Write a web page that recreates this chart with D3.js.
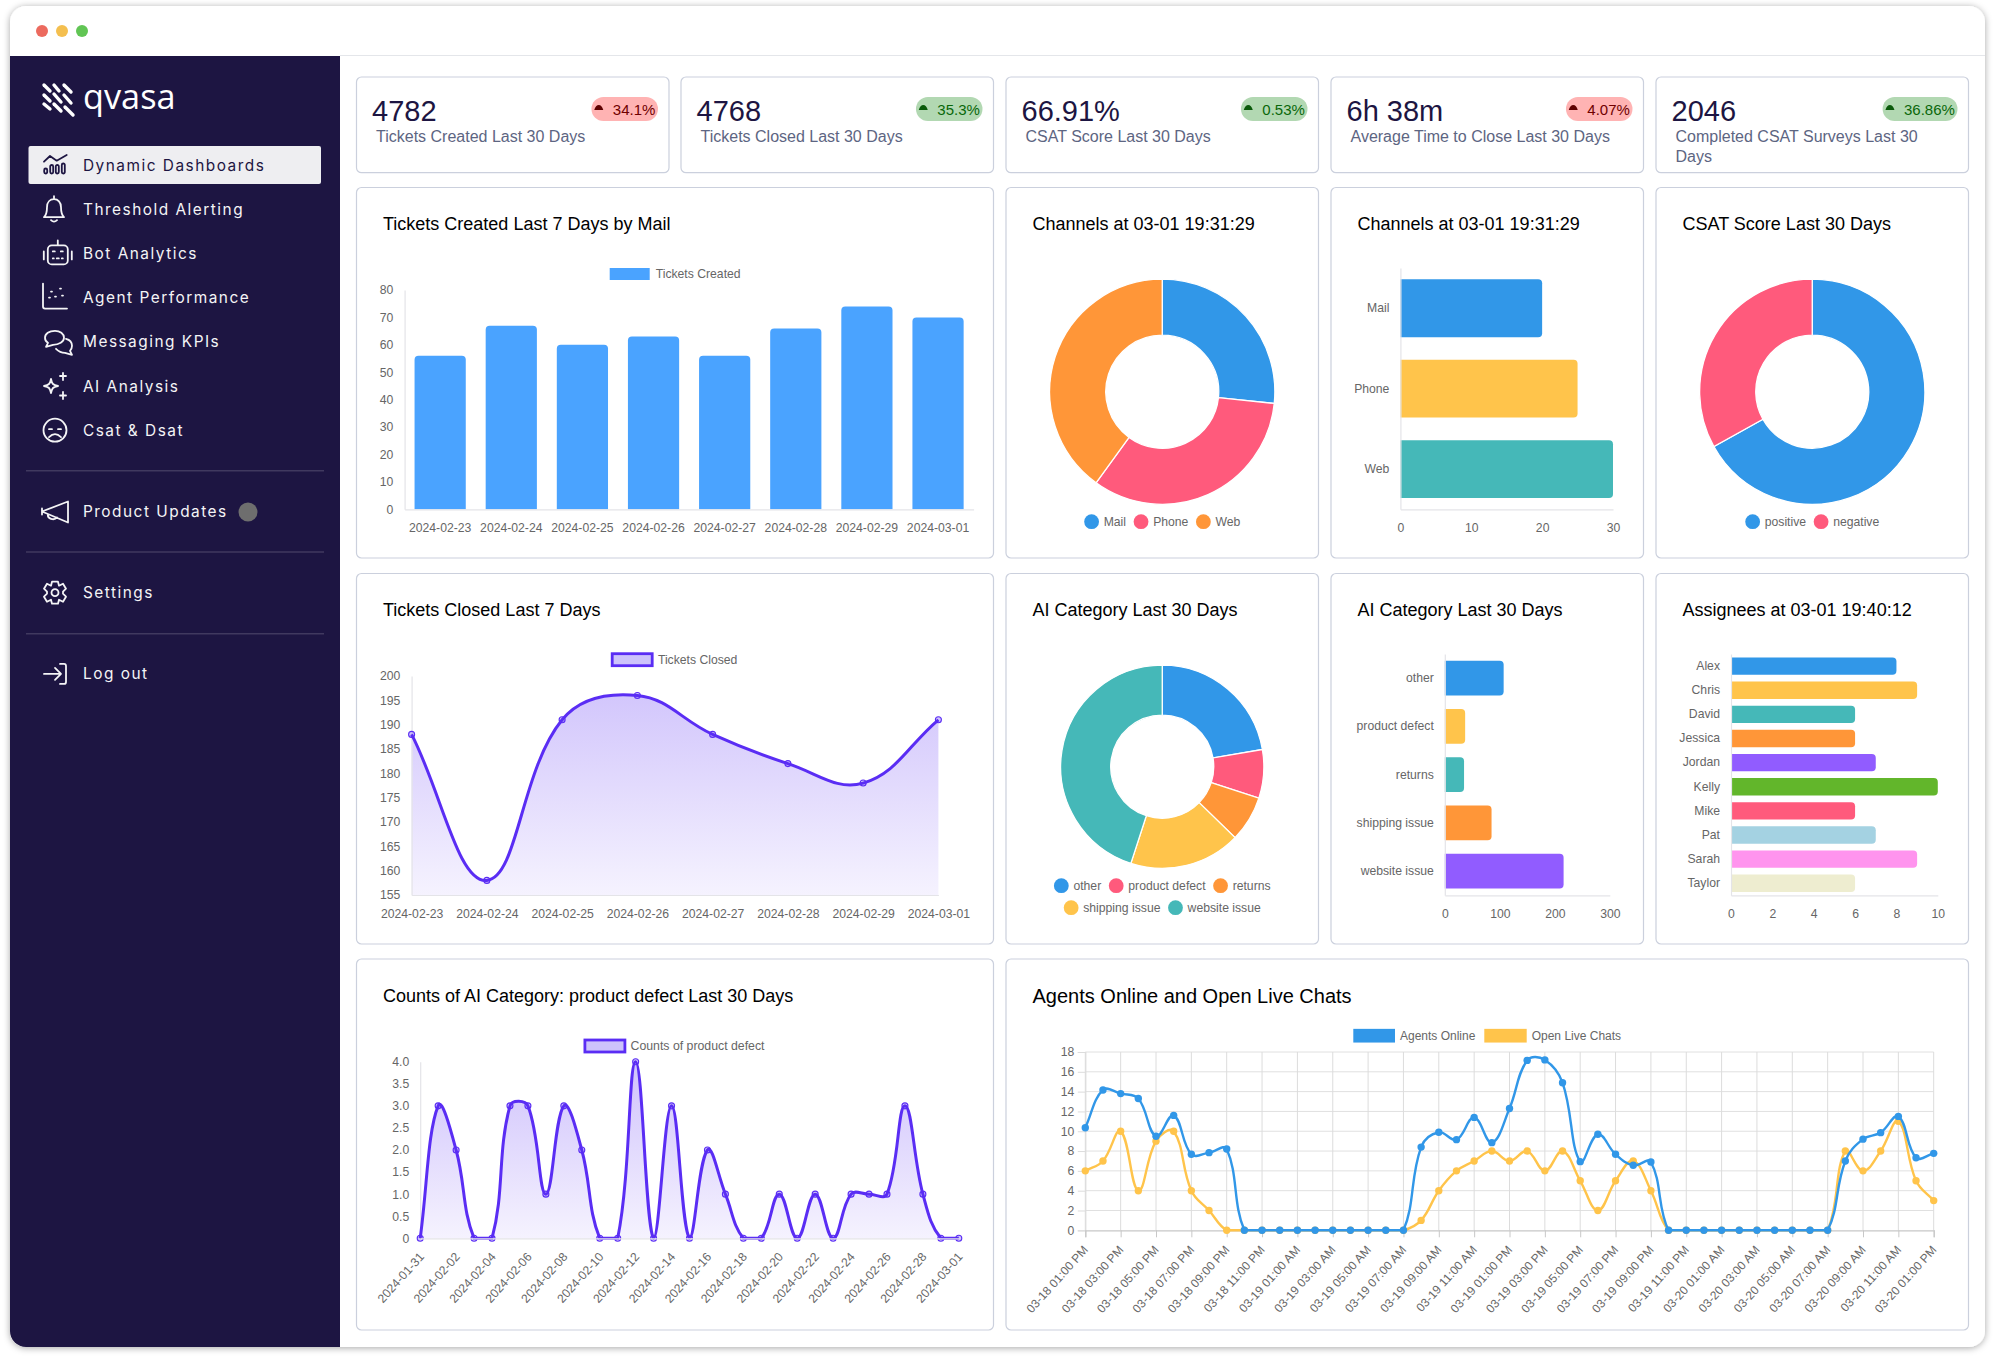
<!DOCTYPE html>
<html>
<head>
<meta charset="utf-8">
<title>qvasa dashboard</title>
<script src="https://d3js.org/d3.v7.min.js"></script>
<style>
html, body { margin: 0; padding: 0; background: #fff; }
svg { display: block; }
text { font-family: "Liberation Sans", Arial, sans-serif; }
</style>
</head>
<body>
<svg id="page" width="1995" height="1361"></svg>
<script>
// ---- data ----
var navItems = ['Dynamic Dashboards', 'Threshold Alerting', 'Bot Analytics', 'Agent Performance', 'Messaging KPIs', 'AI Analysis', 'Csat & Dsat'];
var navExtra = ['Product Updates', 'Settings', 'Log out'];

var kpiValues = ['4782', '4768', '66.91%', '6h 38m', '2046'];
var kpiDeltas = ['34.1%', '35.3%', '0.53%', '4.07%', '36.86%'];
var kpiGood = [false, true, true, false, true];
var kpiLabels = ['Tickets Created Last 30 Days', 'Tickets Closed Last 30 Days', 'CSAT Score Last 30 Days', 'Average Time to Close Last 30 Days', 'Completed CSAT Surveys Last 30 Days'];

var weekDays = ['2024-02-23', '2024-02-24', '2024-02-25', '2024-02-26', '2024-02-27', '2024-02-28', '2024-02-29', '2024-03-01'];
var ticketsCreated = [56, 67, 60, 63, 56, 66, 74, 70];
var ticketsClosed = [188, 158, 191, 196, 188, 182, 178, 191];

var channelNames = ['Mail', 'Phone', 'Web'];
var channelValues = [20, 25, 30];

var csatNames = ['positive', 'negative'];
var csatValues = [66.91, 33.09];

var aiNames = ['other', 'product defect', 'returns', 'shipping issue', 'website issue'];
var aiValues = [107, 37, 35, 85, 216];

var assigneeNames = ['Alex', 'Chris', 'David', 'Jessica', 'Jordan', 'Kelly', 'Mike', 'Pat', 'Sarah', 'Taylor'];
var assigneeValues = [8, 9, 6, 6, 7, 10, 6, 7, 9, 6];

var defectDays = ['2024-01-31', '2024-02-01', '2024-02-02', '2024-02-03', '2024-02-04', '2024-02-05', '2024-02-06', '2024-02-07', '2024-02-08', '2024-02-09', '2024-02-10', '2024-02-11', '2024-02-12', '2024-02-13', '2024-02-14', '2024-02-15', '2024-02-16', '2024-02-17', '2024-02-18', '2024-02-19', '2024-02-20', '2024-02-21', '2024-02-22', '2024-02-23', '2024-02-24', '2024-02-25', '2024-02-26', '2024-02-27', '2024-02-28', '2024-02-29', '2024-03-01'];
var defectCounts = [0, 3, 2, 0, 0, 3, 3, 1, 3, 2, 0, 0, 4, 0, 3, 0, 2, 1, 0, 0, 1, 0, 1, 0, 1, 1, 1, 3, 1, 0, 0];

var hourLabels = ['03-18 01:00 PM', '03-18 02:00 PM', '03-18 03:00 PM', '03-18 04:00 PM', '03-18 05:00 PM', '03-18 06:00 PM', '03-18 07:00 PM', '03-18 08:00 PM', '03-18 09:00 PM', '03-18 10:00 PM', '03-18 11:00 PM', '03-19 12:00 AM',
    '03-19 01:00 AM', '03-19 02:00 AM', '03-19 03:00 AM', '03-19 04:00 AM', '03-19 05:00 AM', '03-19 06:00 AM', '03-19 07:00 AM', '03-19 08:00 AM', '03-19 09:00 AM', '03-19 10:00 AM', '03-19 11:00 AM', '03-19 12:00 PM',
    '03-19 01:00 PM', '03-19 02:00 PM', '03-19 03:00 PM', '03-19 04:00 PM', '03-19 05:00 PM', '03-19 06:00 PM', '03-19 07:00 PM', '03-19 08:00 PM', '03-19 09:00 PM', '03-19 10:00 PM', '03-19 11:00 PM', '03-20 12:00 AM',
    '03-20 01:00 AM', '03-20 02:00 AM', '03-20 03:00 AM', '03-20 04:00 AM', '03-20 05:00 AM', '03-20 06:00 AM', '03-20 07:00 AM', '03-20 08:00 AM', '03-20 09:00 AM', '03-20 10:00 AM', '03-20 11:00 AM', '03-20 12:00 PM', '03-20 01:00 PM'];
var agentsOnline = [10.36, 14.17, 13.8, 13.3, 9.5, 11.6, 7.67, 7.84, 8.2, 0, 0, 0, 0, 0, 0, 0, 0, 0, 0, 8.4, 9.9, 9.15, 11.4, 8.85, 12.3, 17.15, 17.2, 14.9, 6.93, 9.7, 7.67, 6.56, 6.9, 0, 0, 0, 0, 0, 0, 0, 0, 0, 0, 7, 9.2, 9.86, 11.5, 7.33, 7.77];
var openChats = [6, 7, 10, 4, 9, 10, 4, 2, 0, 0, 0, 0, 0, 0, 0, 0, 0, 0, 0, 1, 4, 6, 7, 8, 7, 8, 6, 8, 5, 2, 5, 7, 4, 0, 0, 0, 0, 0, 0, 0, 0, 0, 0, 8, 6, 8, 11, 5, 3];

// ---- colours ----
var BLUE = '#3197e8', PINK = '#ff5a7c', ORANGE = '#ff9638', YELLOW = '#ffc44b', TEAL = '#45b8b8', PURPLE = '#915cff';
var INK = '#1d1542', LINE = '#5a2df4', AXIS = '#e4e4e8', TICK = '#666666';
var TICK_FONT = '12.2px';

var svg = d3.select('#page');
var defs = svg.append('defs');

// window frame
defs.append('filter').attr('id', 'shadow').attr('x', '-3%').attr('y', '-3%').attr('width', '106%').attr('height', '106%')
    .append('feDropShadow').attr('dx', 0).attr('dy', 1).attr('stdDeviation', 3.5).attr('flood-color', '#000').attr('flood-opacity', 0.35);
defs.append('clipPath').attr('id', 'win').append('rect')
    .attr('x', 10).attr('y', 6).attr('width', 1975).attr('height', 1341).attr('rx', 16);
svg.append('rect').attr('x', 10).attr('y', 6).attr('width', 1975).attr('height', 1341).attr('rx', 16)
    .attr('fill', '#fff').attr('filter', 'url(#shadow)');
var win = svg.append('g').attr('clip-path', 'url(#win)');
win.append('rect').attr('x', 10).attr('y', 56).attr('width', 330).attr('height', 1291).attr('fill', INK);
win.append('line').attr('x1', 340).attr('x2', 1985).attr('y1', 55.5).attr('y2', 55.5).attr('stroke', '#e4e6ea').attr('stroke-width', 1.2);
[[42, '#ec6a5e'], [62, '#f4bf4f'], [82, '#61c554']].forEach(function(d){
    svg.append('circle').attr('cx', d[0]).attr('cy', 31).attr('r', 6).attr('fill', d[1]);
});

// ---- sidebar ----
var logoStrokes = [[44, 85, 50, 91], [54, 85, 59, 91], [64, 85, 71, 92], [44, 95, 50, 101], [54, 94, 61, 102], [64, 95, 71, 103], [44, 104, 50, 109], [54, 104, 61, 111], [65, 107, 73, 115]];
svg.append('g').selectAll('line').data(logoStrokes).join('line')
    .attr('x1', function(d){ return d[0]; }).attr('y1', function(d){ return d[1]; })
    .attr('x2', function(d){ return d[2]; }).attr('y2', function(d){ return d[3]; })
    .attr('stroke', '#fff').attr('stroke-width', 3.4).attr('stroke-linecap', 'round');
svg.append('text').attr('x', 83).attr('y', 108.5).text('qvasa')
    .style('font-family', '"Open Sans"').style('font-weight', 400).style('font-size', '34.3px').attr('fill', '#fff');

svg.append('rect').attr('x', 28.5).attr('y', 146).attr('width', 292.5).attr('height', 38).attr('rx', 2).attr('fill', '#eeeef1');

var navIcons = [
    'M-11,-3.3 L-5,-9 L1.7,-4.3 L11.7,-10 M-10.8,5 v2 a1.5,1.5 0 0 0 3,0 v-2 a1.5,1.5 0 0 0 -3,0 Z M-4.8,1.5 v5.5 a1.5,1.5 0 0 0 3,0 v-5.5 a1.5,1.5 0 0 0 -3,0 Z M0.8,1.5 v5.5 a1.5,1.5 0 0 0 3,0 v-5.5 a1.5,1.5 0 0 0 -3,0 Z M6.8,0 v7 a1.5,1.5 0 0 0 3,0 v-7 a1.5,1.5 0 0 0 -3,0 Z',
    'M-10,8 C-7,5 -7,2 -7,-2 C-7,-7 -4,-10 0,-10 C4,-10 7,-7 7,-2 C7,2 7,5 10,8 Z M-3,11 Q0,14 3,11 M0,-10 V-13',
    'M-6,-8 H6 a4,4 0 0 1 4,4 V7 a4,4 0 0 1 -4,4 H-6 a4,4 0 0 1 -4,-4 V-4 a4,4 0 0 1 4,-4 Z M0,-8 V-13 M-14,-2 V6 M14,-2 V6 M-5,-2 h2 M3,-2 h2 M-5,5 h1 M-1,5 h2 M4,5 h1',
    'M-12,-14 V9 a2,2 0 0 0 2,2 H12 M-6,0 h1 M-4,-6 h1 M0,-1 h1 M5,-9 h1 M7,-2 h1',
    'M-3,-11 C-9,-11 -13,-8 -13,-4 C-13,-2 -12,0 -10,1 L-12,5 L-5,3 C1,3 6,0 6,-4 C6,-8 2,-11 -3,-11 Z M8,-3 C12,-2 14,1 14,4 C14,6 13,8 12,9 L14,13 L7,11 C3,11 0,9 -2,7',
    'M-4,-7 C-3,-2 -2,-1 3,0 C-2,1 -3,2 -4,7 C-5,2 -6,1 -11,0 C-6,-1 -5,-2 -4,-7 Z M8,-13 V-6 M5,-10 H11 M8,6 V13 M5,9.5 H11',
    'M11.5,0 A11.5,11.5 0 1 1 -11.5,0 A11.5,11.5 0 1 1 11.5,0 Z M-6,7 Q0,1 6,7 M-6,-1 h3 M3,-1 h3'
];
var navIconX = [55, 54, 57.8, 55, 58, 55, 55];
var extraIcons = [
    'M-13,0 L13,-10 V11 Z M-13,-3 V3 M-7,3 a5,4 0 0 0 9,3',
    'M-3,-11 H3 L4,-7 L8,-9 L11,-4 L8,-1 V1 L11,4 L8,9 L4,7 L3,11 H-3 L-4,7 L-8,9 L-11,4 L-8,1 V-1 L-11,-4 L-8,-9 L-4,-7 Z M3.5,0 a3.5,3.5 0 1 0 -7,0 a3.5,3.5 0 1 0 7,0 Z',
    'M-11,0 H5 M0,-6 L6,0 L0,6 M5,-10 H9 a2,2 0 0 1 2,2 V8 a2,2 0 0 1 -2,2 H5'
];

function navRow(label, icon, ix, cy, color){
    svg.append('path').attr('d', icon).attr('transform', 'translate(' + ix + ',' + cy + ')')
        .attr('fill', 'none').attr('stroke', color).attr('stroke-width', 1.8).attr('stroke-linecap', 'round').attr('stroke-linejoin', 'round');
    svg.append('text').attr('x', 83).attr('y', cy).attr('dy', '0.36em').text(label)
        .style('font-family', 'Inter').style('font-size', '15.4px').style('letter-spacing', '1.5px').attr('fill', color);
}
navItems.forEach(function(d, i){
    navRow(d, navIcons[i], navIconX[i], 165 + i * 44.2, i == 0 ? INK : '#f4f4f6');
});
[470.7, 552, 633.7].forEach(function(y){
    svg.append('line').attr('x1', 26).attr('x2', 324).attr('y1', y).attr('y2', y).attr('stroke', '#40395f').attr('stroke-width', 1.6);
});
navExtra.forEach(function(d, i){
    navRow(d, extraIcons[i], 55, 511.5 + i * 81.2, '#f4f4f6');
});
svg.append('circle').attr('cx', 248).attr('cy', 512).attr('r', 9.5).attr('fill', '#6e6e6e');

// ---- cards ----
var colX = [356.5, 681, 1006, 1331, 1656];
var colW = 312.5;
var ROW2 = 187.5, ROW3 = 573.5, ROW4 = 959;

function card(x, y, w, h){
    svg.append('rect').attr('x', x).attr('y', y).attr('width', w).attr('height', h).attr('rx', 5)
        .attr('fill', '#fff').attr('stroke', '#cbd0dd').attr('stroke-width', 1.2);
}
function chartCard(x, y, w, h, title, size){
    card(x, y, w, h);
    svg.append('text').attr('x', x + 26.5).attr('y', y + (size ? 44 : 42.5)).text(title)
        .style('font-size', (size || 18) + 'px').attr('fill', '#000');
}

// KPI row
kpiValues.forEach(function(v, i){
    var x = colX[i];
    card(x, 77, colW, 95.7);
    svg.append('text').attr('x', x + 15.5).attr('y', 120.5).text(v).style('font-size', '29px').attr('fill', INK);

    // wrap the caption by measuring it
    var words = kpiLabels[i].split(' '), line = [], ly = 141.7;
    var cap = svg.append('text').attr('x', x + 19.5).attr('y', ly).style('font-size', '16px').attr('fill', '#5d6582');
    words.forEach(function(w){
        line.push(w);
        cap.text(line.join(' '));
        if (cap.node().getComputedTextLength() > 270) {
            line.pop();
            cap.text(line.join(' '));
            cap = svg.append('text').attr('x', x + 19.5).attr('y', ly += 20.7).style('font-size', '16px').attr('fill', '#5d6582');
            line = [w];
            cap.text(w);
        }
    });

    // delta badge
    var good = kpiGood[i], right = x + colW - 11;
    var badge = svg.append('g');
    var bg = badge.append('rect').attr('y', 97).attr('height', 24).attr('rx', 12).attr('fill', good ? '#b2d8b2' : '#ffb3b3');
    var t = badge.append('text').attr('x', right - 2.6).attr('y', 109.3).attr('dy', '0.36em').attr('text-anchor', 'end').text(kpiDeltas[i])
        .style('font-size', '15px').attr('fill', good ? '#0a670a' : '#6f0000');
    var tw = t.node().getComputedTextLength();
    var left = right - tw - 24;
    bg.attr('x', left).attr('width', tw + 24);
    badge.append('path').attr('d', 'M' + (left + 2.8) + ',110 h9 q-1.5,-5 -4.5,-5 q-3,0 -4.5,5 Z').attr('fill', good ? '#0a5a0a' : '#5e0000');
});

// ---- chart helpers ----
function styleAxis(g, lineColor, fontSize){
    g.style('font-family', '"Liberation Sans", Arial, sans-serif').style('font-size', fontSize || TICK_FONT);
    g.selectAll('.tick text').attr('fill', TICK);
    g.select('.domain').attr('stroke', lineColor || AXIS).attr('stroke-width', 1.2);
    return g;
}

function roundedBar(x0, y0, x1, y1, vertical, r){
    // x0,y0 is the base corner; the far end gets rounded corners
    if (vertical) {
        return 'M' + x0 + ',' + y0 + 'V' + (y1 + r) + 'Q' + x0 + ',' + y1 + ' ' + (x0 + r) + ',' + y1 +
            'H' + (x1 - r) + 'Q' + x1 + ',' + y1 + ' ' + x1 + ',' + (y1 + r) + 'V' + y0 + 'Z';
    }
    return 'M' + x0 + ',' + y0 + 'H' + (x1 - r) + 'Q' + x1 + ',' + y0 + ' ' + x1 + ',' + (y0 + r) +
        'V' + (y1 - r) + 'Q' + x1 + ',' + y1 + ' ' + (x1 - r) + ',' + y1 + 'H' + x0 + 'Z';
}

function boxLegend(items, y, fontSize){
    items.forEach(function(d){
        svg.append('rect').attr('x', d.x).attr('y', y - d.h / 2).attr('width', d.w).attr('height', d.h)
            .attr('fill', d.fill).attr('stroke', d.stroke || 'none').attr('stroke-width', d.stroke ? 2.8 : 0);
        svg.append('text').attr('x', d.textX).attr('y', y).attr('dy', '0.35em').text(d.label)
            .style('font-size', fontSize || TICK_FONT).attr('fill', TICK);
    });
}

function dotLegend(names, colors, centre, y){
    // centred row of dots, widths measured from the text
    var g = svg.append('g');
    var x = 0;
    names.forEach(function(n, i){
        g.append('circle').attr('cx', x + 7.4).attr('cy', y).attr('r', 7.4).attr('fill', colors[i]);
        var t = g.append('text').attr('x', x + 19.5).attr('y', y).attr('dy', '0.35em').text(n)
            .style('font-size', TICK_FONT).attr('fill', TICK);
        x += 19.5 + t.node().getComputedTextLength() + 7.6;
    });
    g.attr('transform', 'translate(' + (centre - (x - 7.6) / 2) + ',0)');
}

function donut(values, colors, cx, cy, outer, inner){
    var pie = d3.pie().sort(null)(values);
    var arc = d3.arc().outerRadius(outer).innerRadius(inner);
    svg.append('g').attr('transform', 'translate(' + cx + ',' + cy + ')')
        .selectAll('path').data(pie).join('path')
        .attr('d', arc)
        .attr('fill', function(d, i){ return colors[i]; })
        .attr('stroke', '#fff').attr('stroke-width', 1.3);
}

function hBars(names, values, colors, domainMax, ticks, box, r){
    var xScale = d3.scaleLinear().domain([0, domainMax]).range([box.x0, box.x1]);
    var yScale = d3.scaleBand().domain(names).range([box.y0, box.y1]).paddingInner(0.28).paddingOuter(0.14);
    svg.append('g').selectAll('path').data(names).join('path')
        .attr('d', function(d, i){
            return roundedBar(xScale(0), yScale(d), xScale(values[i]), yScale(d) + yScale.bandwidth(), false, r);
        })
        .attr('fill', function(d, i){ return colors[i]; });
    var gx = svg.append('g').attr('transform', 'translate(0,' + box.y1 + ')')
        .call(d3.axisBottom(xScale).tickValues(ticks).tickSize(0).tickPadding(box.pad).tickFormat(d3.format('d')));
    styleAxis(gx);
    var gy = svg.append('g').attr('transform', 'translate(' + box.x0 + ',0)')
        .call(d3.axisLeft(yScale).tickSize(0).tickPadding(11));
    styleAxis(gy);
}

// same bezier control points as a tension 0.4 chart spline, held inside the plot
function capSpline(top, bottom){
    return function(context){
        var pts;
        return {
            areaStart: function(){}, areaEnd: function(){},
            lineStart: function(){ pts = []; },
            point: function(x, y){ pts.push([+x, +y]); },
            lineEnd: function(){
                var cps = pts.map(function(p, i){
                    var a = pts[i - 1] || p, b = pts[i + 1] || p;
                    var d01 = Math.hypot(p[0] - a[0], p[1] - a[1]), d12 = Math.hypot(b[0] - p[0], b[1] - p[1]);
                    var s = d01 + d12 || 1;
                    var fa = 0.4 * d01 / s, fb = 0.4 * d12 / s;
                    function cap(v){ return Math.max(top, Math.min(bottom, v)); }
                    return {
                        px: p[0] - fa * (b[0] - a[0]), py: cap(p[1] - fa * (b[1] - a[1])),
                        nx: p[0] + fb * (b[0] - a[0]), ny: cap(p[1] + fb * (b[1] - a[1]))
                    };
                });
                pts.forEach(function(p, i){
                    if (i == 0) context.moveTo(p[0], p[1]);
                    else context.bezierCurveTo(cps[i - 1].nx, cps[i - 1].ny, cps[i].px, cps[i].py, p[0], p[1]);
                });
            }
        };
    };
}

function areaChart(id, labels, values, yScale, box, tickVals, tickFmt, yPad){
    var xScale = d3.scalePoint().domain(labels).range([box.x0, box.x1]);
    var lineGen = d3.line()
        .x(function(d, i){ return xScale(labels[i]); })
        .y(function(d){ return yScale(d); })
        .curve(capSpline(box.y0, box.y1));
    var grad = defs.append('linearGradient').attr('id', id).attr('gradientUnits', 'userSpaceOnUse')
        .attr('x1', 0).attr('x2', 0).attr('y1', box.y0 - 10).attr('y2', box.y1);
    grad.append('stop').attr('offset', 0).attr('stop-color', LINE).attr('stop-opacity', 0.3);
    grad.append('stop').attr('offset', 1).attr('stop-color', LINE).attr('stop-opacity', 0.06);

    var d = lineGen(values);
    svg.append('path').attr('d', d + 'L' + box.x1 + ',' + box.y1 + 'L' + box.x0 + ',' + box.y1 + 'Z').attr('fill', 'url(#' + id + ')');

    var gy = svg.append('g').attr('transform', 'translate(' + box.x0 + ',0)')
        .call(d3.axisLeft(yScale).tickValues(tickVals).tickSize(0).tickPadding(yPad).tickFormat(tickFmt));
    styleAxis(gy);

    svg.append('path').attr('d', d).attr('fill', 'none').attr('stroke', LINE).attr('stroke-width', 3);
    svg.append('g').selectAll('circle').data(values).join('circle')
        .attr('cx', function(v, i){ return xScale(labels[i]); })
        .attr('cy', function(v){ return yScale(v); })
        .attr('r', 3).attr('fill', 'rgba(90,45,244,0.28)').attr('stroke', LINE).attr('stroke-width', 1.1);
    return xScale;
}

// ---- row 2 ----
chartCard(colX[0], ROW2, colX[1] + colW - colX[0], 370.5, 'Tickets Created Last 7 Days by Mail');
var x1 = d3.scaleBand().domain(weekDays).range([404.6, 973.6]).paddingInner(0.28).paddingOuter(0.14);
var y1 = d3.scaleLinear().domain([0, 80]).range([509.3, 290]);
svg.append('g').selectAll('path').data(weekDays).join('path')
    .attr('d', function(d, i){
        return roundedBar(x1(d), y1(0), x1(d) + x1.bandwidth(), y1(ticketsCreated[i]), true, 4);
    })
    .attr('fill', '#4aa3ff');
styleAxis(svg.append('g').attr('transform', 'translate(0,509.3)').call(d3.axisBottom(x1).tickSize(0).tickPadding(13.8)));
styleAxis(svg.append('g').attr('transform', 'translate(404.6,0)').call(d3.axisLeft(y1).ticks(8).tickSize(0).tickPadding(11.3)));
boxLegend([{x: 609.7, w: 40, h: 12, fill: '#4aa3ff', label: 'Tickets Created', textX: 655.7}], 274);

chartCard(colX[2], ROW2, colW, 370.5, 'Channels at 03-01 19:31:29');
donut(channelValues, [BLUE, PINK, ORANGE], colX[2] + colW / 2, 391.7, 112.6, 56.5);
dotLegend(channelNames, [BLUE, PINK, ORANGE], colX[2] + colW / 2, 521.7);

chartCard(colX[3], ROW2, colW, 370.5, 'Channels at 03-01 19:31:29');
hBars(channelNames, channelValues, [BLUE, YELLOW, TEAL], 30, [0, 10, 20, 30], {x0: 1400.4, x1: 1613, y0: 268, y1: 509.3, pad: 13.8}, 4);

chartCard(colX[4], ROW2, colW, 370.5, 'CSAT Score Last 30 Days');
donut(csatValues, [BLUE, PINK], colX[4] + colW / 2, 391.7, 112.6, 56.5);
dotLegend(csatNames, [BLUE, PINK], colX[4] + colW / 2, 521.7);

// ---- row 3 ----
chartCard(colX[0], ROW3, colX[1] + colW - colX[0], 370.5, 'Tickets Closed Last 7 Days');
var yClosed = d3.scaleLinear().domain([155, 200]).range([895, 676]);
var boxClosed = {x0: 411.6, x1: 938.4, y0: 676, y1: 895};
var xClosed = areaChart('gradClosed', weekDays, ticketsClosed, yClosed, boxClosed, d3.range(155, 201, 5), d3.format('d'), 11.3);
var gClosed = svg.append('g').attr('transform', 'translate(0,895)').call(d3.axisBottom(xClosed).tickSize(0).tickPadding(14.5));
styleAxis(gClosed);
boxLegend([{x: 612.2, w: 40, h: 12, fill: '#cdc3fb', stroke: LINE, label: 'Tickets Closed', textX: 657.9}], 659.7);

chartCard(colX[2], ROW3, colW, 370.5, 'AI Category Last 30 Days');
donut(aiValues, [BLUE, PINK, ORANGE, YELLOW, TEAL], colX[2] + colW / 2, 766.7, 101.6, 51.5);
dotLegend(aiNames.slice(0, 3), [BLUE, PINK, ORANGE], colX[2] + colW / 2, 885.7);
dotLegend(aiNames.slice(3), [YELLOW, TEAL], colX[2] + colW / 2, 907.7);

chartCard(colX[3], ROW3, colW, 370.5, 'AI Category Last 30 Days');
hBars(aiNames, aiValues, [BLUE, YELLOW, TEAL, ORANGE, PURPLE], 300, [0, 100, 200, 300], {x0: 1444.8, x1: 1609.8, y0: 654, y1: 895.3, pad: 14.5}, 4);

chartCard(colX[4], ROW3, colW, 370.5, 'Assignees at 03-01 19:40:12');
hBars(assigneeNames, assigneeValues, [BLUE, YELLOW, TEAL, ORANGE, PURPLE, '#62b62b', PINK, '#a4d2e2', '#ff94ee', '#eeedd0'], 10, [0, 2, 4, 6, 8, 10], {x0: 1731, x1: 1937.8, y0: 654, y1: 895.3, pad: 14.5}, 4);

// ---- row 4 ----
chartCard(colX[0], ROW4, colX[1] + colW - colX[0], 371, 'Counts of AI Category: product defect Last 30 Days');
var yDefect = d3.scaleLinear().domain([0, 4]).range([1238.3, 1061.7]);
var boxDefect = {x0: 420.2, x1: 958.8, y0: 1061.7, y1: 1238.3};
var xDefect = areaChart('gradDefect', defectDays, defectCounts, yDefect, boxDefect, d3.range(0, 4.1, 0.5), function(d){ return d == 0 ? '0' : d3.format('.1f')(d); }, 11);
var gDefect = svg.append('g').attr('transform', 'translate(0,1238.3)')
    .call(d3.axisBottom(xDefect).tickValues(defectDays.filter(function(d, i){ return i % 2 == 0; })).tickSize(0).tickPadding(0));
styleAxis(gDefect);
gDefect.selectAll('.tick text').attr('dy', null).attr('y', 0).attr('text-anchor', 'end')
    .attr('transform', 'translate(4,19) rotate(-48)');
boxLegend([{x: 584.9, w: 40, h: 12, fill: '#cdc3fb', stroke: LINE, label: 'Counts of product defect', textX: 630.5}], 1046, '12.3px');

chartCard(colX[2], ROW4, colX[4] + colW - colX[2], 371, 'Agents Online and Open Live Chats', 20);
var xHours = d3.scalePoint().domain(hourLabels).range([1085.3, 1933.7]);
var yAgents = d3.scaleLinear().domain([0, 18]).range([1230.3, 1052]);
var everyOther = hourLabels.filter(function(d, i){ return i % 2 == 0; });
svg.append('g').selectAll('line').data(d3.range(2, 19, 2)).join('line')
    .attr('x1', 1085.3).attr('x2', 1933.7)
    .attr('y1', function(d){ return yAgents(d); }).attr('y2', function(d){ return yAgents(d); })
    .attr('stroke', '#e0e0e0').attr('stroke-width', 1);
svg.append('g').selectAll('line').data(everyOther).join('line')
    .attr('x1', function(d){ return xHours(d); }).attr('x2', function(d){ return xHours(d); })
    .attr('y1', 1052).attr('y2', 1230.3)
    .attr('stroke', '#dcdcdc').attr('stroke-width', 1);
var gAgentsY = svg.append('g').attr('transform', 'translate(1085.3,0)')
    .call(d3.axisLeft(yAgents).tickValues(d3.range(0, 19, 2)).tickSize(7.5).tickPadding(3.5));
styleAxis(gAgentsY, '#dcdcdc');
gAgentsY.selectAll('.tick line').attr('stroke', '#dcdcdc');
var gAgentsX = svg.append('g').attr('transform', 'translate(0,1230.3)')
    .call(d3.axisBottom(xHours).tickValues(everyOther).tickSize(7).tickPadding(0));
styleAxis(gAgentsX, '#c8c8c8', '12px');
gAgentsX.selectAll('.tick line').attr('stroke', '#c8c8c8');
gAgentsX.selectAll('.tick text').attr('dy', null).attr('y', 0).attr('text-anchor', 'end')
    .attr('transform', 'translate(3,20) rotate(-48)');

[[openChats, YELLOW], [agentsOnline, BLUE]].forEach(function(s){
    var gen = d3.line()
        .x(function(d, i){ return xHours(hourLabels[i]); })
        .y(function(d){ return yAgents(d); })
        .curve(capSpline(1052, 1230.3));
    svg.append('path').attr('d', gen(s[0])).attr('fill', 'none').attr('stroke', s[1]).attr('stroke-width', 2.4);
    svg.append('g').selectAll('circle').data(s[0]).join('circle')
        .attr('cx', function(d, i){ return xHours(hourLabels[i]); })
        .attr('cy', function(d){ return yAgents(d); })
        .attr('r', 3.7).attr('fill', s[1]);
});
boxLegend([
    {x: 1353.3, w: 41.7, h: 13.7, fill: BLUE, label: 'Agents Online', textX: 1400},
    {x: 1484.3, w: 42.4, h: 13.7, fill: YELLOW, label: 'Open Live Chats', textX: 1531.7}
], 1035.7, '12px');
</script>
</body>
</html>
